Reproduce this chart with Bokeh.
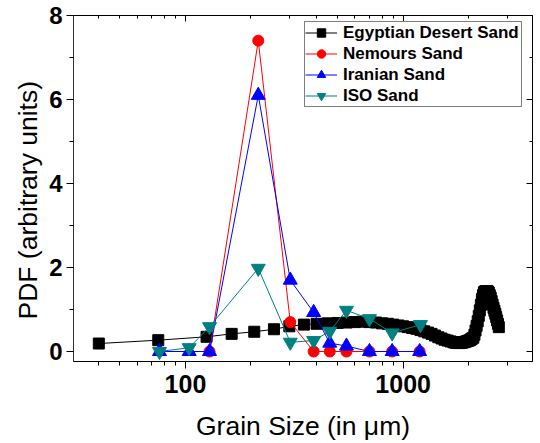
from bokeh.plotting import figure
from bokeh.models import (LogAxis, LinearAxis, FixedTicker, Legend, LegendItem, Range1d, Title)
from bokeh.embed import file_html
from bokeh.resources import INLINE

# ---------------- data ----------------
egy_x = [40, 75, 125, 163, 207, 255, 300, 350, 400, 450, 500, 550, 600, 650, 700, 750,
         800, 850, 900, 950, 1000, 1050, 1100, 1150, 1200, 1250, 1300, 1350, 1400, 1450,
         1500, 1550, 1600, 1650, 1700, 1725, 1750, 1775, 1800, 1825, 1850, 1875, 1900,
         1925, 1950, 1975, 2000, 2025, 2050, 2075, 2100, 2125, 2150, 2175, 2200, 2225,
         2250, 2275, 2300, 2325, 2350, 2375, 2400, 2425, 2450, 2475, 2500, 2525, 2550,
         2575, 2600, 2625, 2650, 2675, 2700, 2725, 2750]
egy_y = [0.19, 0.27, 0.35, 0.42, 0.47, 0.53,
         0.60, 0.64, 0.66, 0.67, 0.68, 0.69, 0.70, 0.71, 0.70, 0.69,
         0.67, 0.66, 0.64, 0.62, 0.60, 0.58, 0.56, 0.54, 0.51, 0.48,
         0.45, 0.42, 0.38, 0.34, 0.31, 0.28, 0.26, 0.24, 0.22, 0.215,
         0.21, 0.205, 0.20, 0.205, 0.21, 0.215, 0.22, 0.23, 0.24, 0.25,
         0.26, 0.27, 0.29, 0.31, 0.33, 0.40, 0.50, 0.61, 0.72, 0.85,
         0.98, 1.11, 1.25, 1.34, 1.41, 1.43, 1.44, 1.44, 1.43, 1.40,
         1.34, 1.28, 1.20, 1.12, 1.04, 0.97, 0.90, 0.82, 0.74, 0.66, 0.58]

nem_x = [129, 216, 303, 388, 460, 549, 700, 890, 1190]
nem_y = [0.0, 7.4, 0.7, 0.0, 0.0, 0.0, 0.0, 0.0, 0.0]

iran_x = [76, 104, 129, 216, 303, 388, 460, 549, 700, 890, 1190]
iran_y = [0.0, 0.0, 0.0, 6.1, 1.7, 0.93, 0.2, 0.13, 0.0, 0.0, 0.0]

iso_x = [76, 104, 129, 216, 303, 388, 460, 549, 700, 890, 1200]
iso_y = [0.0, 0.09, 0.59, 1.98, 0.22, 0.26, 0.48, 0.98, 0.78, 0.44, 0.64]

x_major = [100, 1000]
x_major_labels = {100: "100", 1000: "1000"}
x_minor = [40, 50, 60, 70, 80, 90, 200, 300, 400, 500, 600, 700, 800, 900, 2000, 3000]
y_major = [0, 2, 4, 6, 8]
y_minor = [1, 3, 5, 7]

labels = ["Egyptian Desert Sand", "Nemours Sand", "Iranian Sand", "ISO Sand"]
x_title = "Grain Size (in μm)"
y_title = "PDF (arbitrary units)"

# ---------------- figure ----------------
FONT = "Liberation Sans"
p = figure(width=540, height=443, x_axis_type="log",
           x_range=Range1d(30.6, 3927), y_range=Range1d(-0.238, 8.0),
           output_backend="svg", toolbar_location=None,
           min_border_left=73, min_border_right=8, min_border_top=15, min_border_bottom=81)
p.background_fill_color = "white"
p.border_fill_color = "white"
p.outline_line_color = "black"
p.outline_line_width = 1
p.xgrid.visible = False
p.ygrid.visible = False

# bottom axis
xa = p.xaxis[0]
xa.ticker = FixedTicker(ticks=x_major, minor_ticks=x_minor)
xa.major_label_overrides = x_major_labels
xa.axis_label = x_title
xa.axis_label_text_font = FONT
xa.axis_label_text_font_size = "26.5px"
xa.axis_label_text_font_style = "normal"
xa.axis_label_text_color = "black"
xa.axis_label_standoff = 15
xa.major_label_text_font = FONT
xa.major_label_text_font_size = "25px"
xa.major_label_text_font_style = "bold"
xa.major_label_text_color = "black"
xa.major_label_standoff = 6
xa.major_tick_out = 7
xa.major_tick_in = 0
xa.minor_tick_out = 4
xa.minor_tick_in = 0
xa.axis_line_color = "black"

# left axis
ya = p.yaxis[0]
ya.ticker = FixedTicker(ticks=y_major, minor_ticks=y_minor)
ya.major_label_text_font = FONT
ya.major_label_text_font_size = "24px"
ya.major_label_text_font_style = "bold"
ya.major_label_text_color = "black"
ya.major_label_standoff = 4
ya.major_tick_out = 7
ya.major_tick_in = 0
ya.minor_tick_out = 4
ya.minor_tick_in = 0
ya.axis_line_color = "#333333"

# y-axis title as a side title, starting 42 px above the frame bottom
p.add_layout(Title(text=y_title, align="left", offset=42, standoff=7,
                   text_font=FONT, text_font_size="26.5px", text_font_style="normal",
                   text_color="black"), "left")

# top and right axes (ticks inward, no visible labels)
top = LogAxis(ticker=FixedTicker(ticks=x_major, minor_ticks=x_minor))
right = LinearAxis(ticker=FixedTicker(ticks=y_major, minor_ticks=y_minor))
for ax in (top, right):
    ax.major_label_text_font_size = "1px"
    ax.major_label_text_color = None
    ax.major_label_standoff = 0
    ax.major_tick_out = 0
    ax.major_tick_in = 6
    ax.minor_tick_out = 0
    ax.minor_tick_in = 3
    ax.axis_line_color = "black"
p.add_layout(top, "above")
p.add_layout(right, "right")

# ---------------- series ----------------
TEAL = "#008080"
l1 = p.line(egy_x, egy_y, line_color="black", line_width=1)
m1 = p.scatter(egy_x, egy_y, marker="square", size=11, fill_color="black", line_color="black")
l2 = p.line(nem_x, nem_y, line_color="red", line_width=1)
m2 = p.scatter(nem_x, nem_y, marker="circle", size=11, fill_color="red", line_color="red")
l3 = p.line(iran_x, iran_y, line_color="blue", line_width=1)
m3 = p.scatter(iran_x, iran_y, marker="triangle", size=14, fill_color="blue", line_color="blue")
l4 = p.line(iso_x, iso_y, line_color=TEAL, line_width=1)
m4 = p.scatter(iso_x, iso_y, marker="inverted_triangle", size=14, fill_color=TEAL, line_color=TEAL)

legend = Legend(items=[
    LegendItem(label=labels[0], renderers=[l1, m1]),
    LegendItem(label=labels[1], renderers=[l2, m2]),
    LegendItem(label=labels[2], renderers=[l3, m3]),
    LegendItem(label=labels[3], renderers=[l4, m4]),
], location=(231, 254))
legend.label_text_font = FONT
legend.label_text_font_size = "17px"
legend.label_text_font_style = "bold"
legend.label_text_color = "black"
legend.label_height = 21
legend.label_width = 178
legend.glyph_height = 21
legend.glyph_width = 32
legend.label_standoff = 6
legend.spacing = 0
legend.padding = 0
legend.margin = 0
legend.border_line_color = "black"
legend.border_line_width = 1.3
legend.background_fill_alpha = 1
p.add_layout(legend)

open("out.html", "w").write(file_html(p, INLINE))
